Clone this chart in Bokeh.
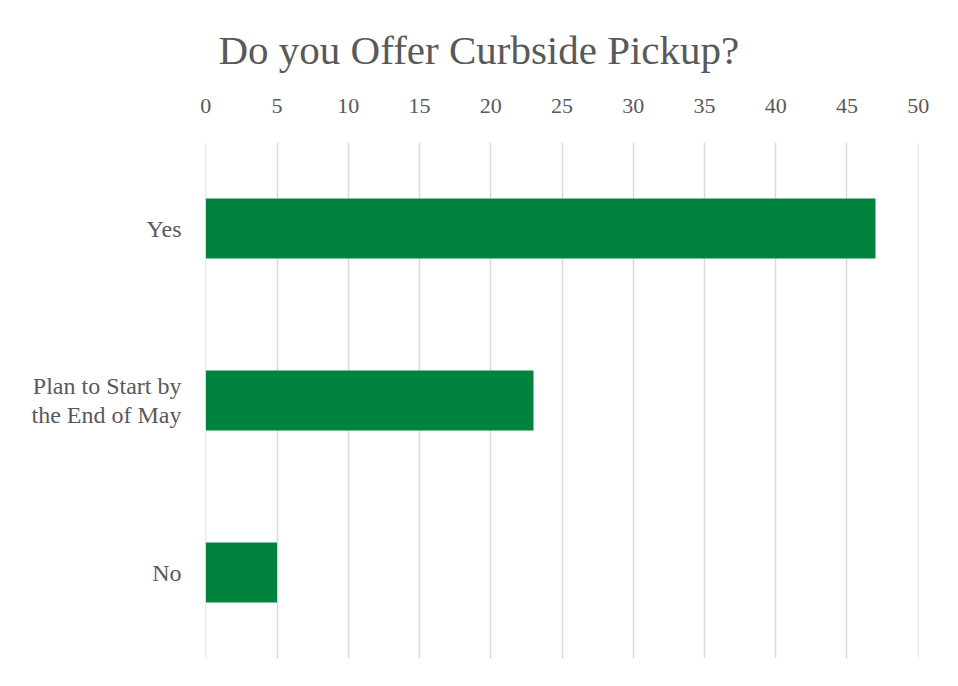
from bokeh.plotting import figure
from bokeh.models import FactorRange, Range1d, FixedTicker, LinearAxis, Title
from bokeh.embed import file_html
from bokeh.resources import INLINE

categories = ["No", "Plan to Start by\nthe End of May", "Yes"]
values = [5, 23, 47]
x_ticks = [0, 5, 10, 15, 20, 25, 30, 35, 40, 45, 50]
title_text = "Do you Offer Curbside Pickup?"

FONT = "Liberation Serif"
TXT = "#595959"

p = figure(width=950, height=680, output_backend="svg", toolbar_location=None,
           y_range=FactorRange(factors=categories), x_range=Range1d(-0.02, 50.02),
           x_axis_location=None, min_border_left=205, min_border_right=32,
           min_border_top=142, min_border_bottom=22)
p.outline_line_color = None
p.background_fill_color = "white"
p.border_fill_color = "white"

p.hbar(y=categories, right=values, left=0, height=0.35, color="#00843D", line_color=None)

top_axis = LinearAxis(ticker=FixedTicker(ticks=x_ticks))
top_axis.axis_line_color = None
top_axis.major_tick_line_color = None
top_axis.minor_tick_line_color = None
top_axis.major_label_text_font = FONT
top_axis.major_label_text_font_size = "22px"
top_axis.major_label_text_color = TXT
top_axis.major_label_standoff = 24
p.add_layout(top_axis, "above")

p.xgrid.ticker = FixedTicker(ticks=x_ticks)
p.xgrid.grid_line_color = "#d9d9d9"
p.xgrid.grid_line_width = 1.5
p.ygrid.grid_line_color = None

ya = p.yaxis[0]
ya.axis_line_color = None
ya.major_tick_line_color = None
ya.minor_tick_line_color = None
ya.major_label_text_font = FONT
ya.major_label_text_font_size = "24px"
ya.major_label_text_color = TXT
ya.major_label_text_line_height = 1.1
ya.major_label_standoff = 18

t = Title(text=title_text, align="left", offset=13, standoff=46,
          text_font=FONT, text_font_size="41px", text_font_style="normal", text_color=TXT)
p.add_layout(t, "above")

open("out.html", "w").write(file_html(p, INLINE))
